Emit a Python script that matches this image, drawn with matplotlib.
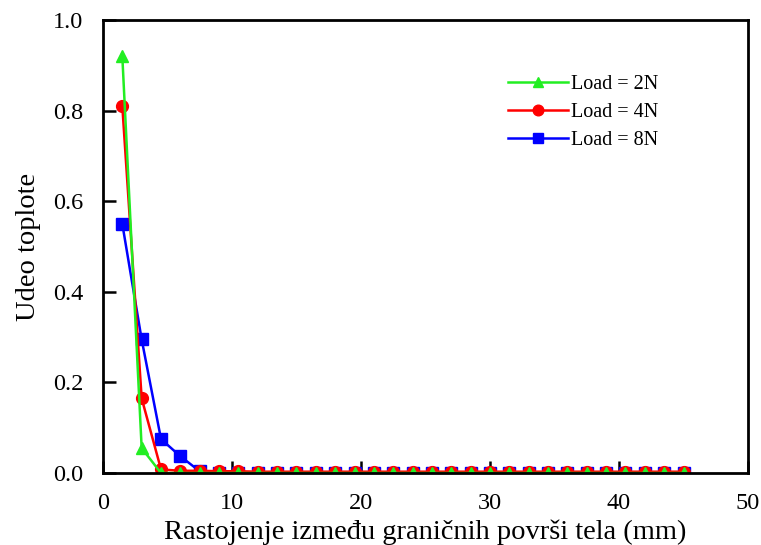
import matplotlib
matplotlib.use("Agg")
import matplotlib.pyplot as plt

x = [1.5 * k for k in range(1, 31)]
load_2n = [0.92, 0.055, 0.0, 0.0, 0.0, 0.0, 0.0, 0.0, 0.0, 0.0,
           0.0, 0.0, 0.0, 0.0, 0.0, 0.0, 0.0, 0.0, 0.0, 0.0,
           0.0, 0.0, 0.0, 0.0, 0.0, 0.0, 0.0, 0.0, 0.0, 0.0]
load_4n = [0.81, 0.165, 0.008, 0.005, 0.005, 0.004, 0.004, 0.003, 0.003, 0.003,
           0.003, 0.003, 0.003, 0.003, 0.003, 0.003, 0.003, 0.003, 0.003, 0.003,
           0.003, 0.003, 0.003, 0.003, 0.003, 0.003, 0.003, 0.003, 0.003, 0.003]
load_8n = [0.55, 0.295, 0.075, 0.037, 0.004, 0.001, 0.0, 0.0, 0.0, 0.0,
           0.0, 0.0, 0.0, 0.0, 0.0, 0.0, 0.0, 0.0, 0.0, 0.0,
           0.0, 0.0, 0.0, 0.0, 0.0, 0.0, 0.0, 0.0, 0.0, 0.0]
labels = ["Load = 2N", "Load = 4N", "Load = 8N"]

plt.rcParams['font.family'] = ['Liberation Serif', 'DejaVu Serif']

fig = plt.figure(figsize=(7.61, 5.45), dpi=100)
ax = fig.add_axes([0.1353, 0.132, 0.8477, 0.831])

l8, = ax.plot(x, load_8n, color='#0000ff', marker='s', markersize=8.5, lw=1.8, label=labels[2])
l4, = ax.plot(x, load_4n, color='#ff0000', marker='o', markersize=8.5, lw=1.8, label=labels[1])
l2, = ax.plot(x, load_2n, color='#22ee22', marker='^', markersize=8.5, lw=1.8, label=labels[0])

ax.set_xlim(0, 50)
ax.set_ylim(0, 1.0)
ax.set_xticks([0, 10, 20, 30, 40, 50])
ax.set_yticks([0.0, 0.2, 0.4, 0.6, 0.8, 1.0])
ax.set_yticklabels(["0.0", "0.2", "0.4", "0.6", "0.8", "1.0"])
ax.tick_params(axis='both', direction='in', labelsize=17.5, width=1.8, length=9,
               top=False, right=False)
ax.tick_params(axis='x', pad=14.5)
ax.tick_params(axis='y', pad=14)
for s in ax.spines.values():
    s.set_linewidth(2)

ax.set_xlabel("Rastojenje između graničnih površi tela (mm)", fontsize=20.5, labelpad=4)
ax.set_ylabel("Udeo toplote", fontsize=20.5, labelpad=9)

ax.legend(handles=[l2, l4, l8], loc='upper left', bbox_to_anchor=(0.599, 0.92),
          frameon=False, fontsize=14.5, handlelength=3.0, handletextpad=0.15,
          labelspacing=0.45, markerscale=0.9)

fig.savefig("out.png", dpi=100, facecolor='white')
